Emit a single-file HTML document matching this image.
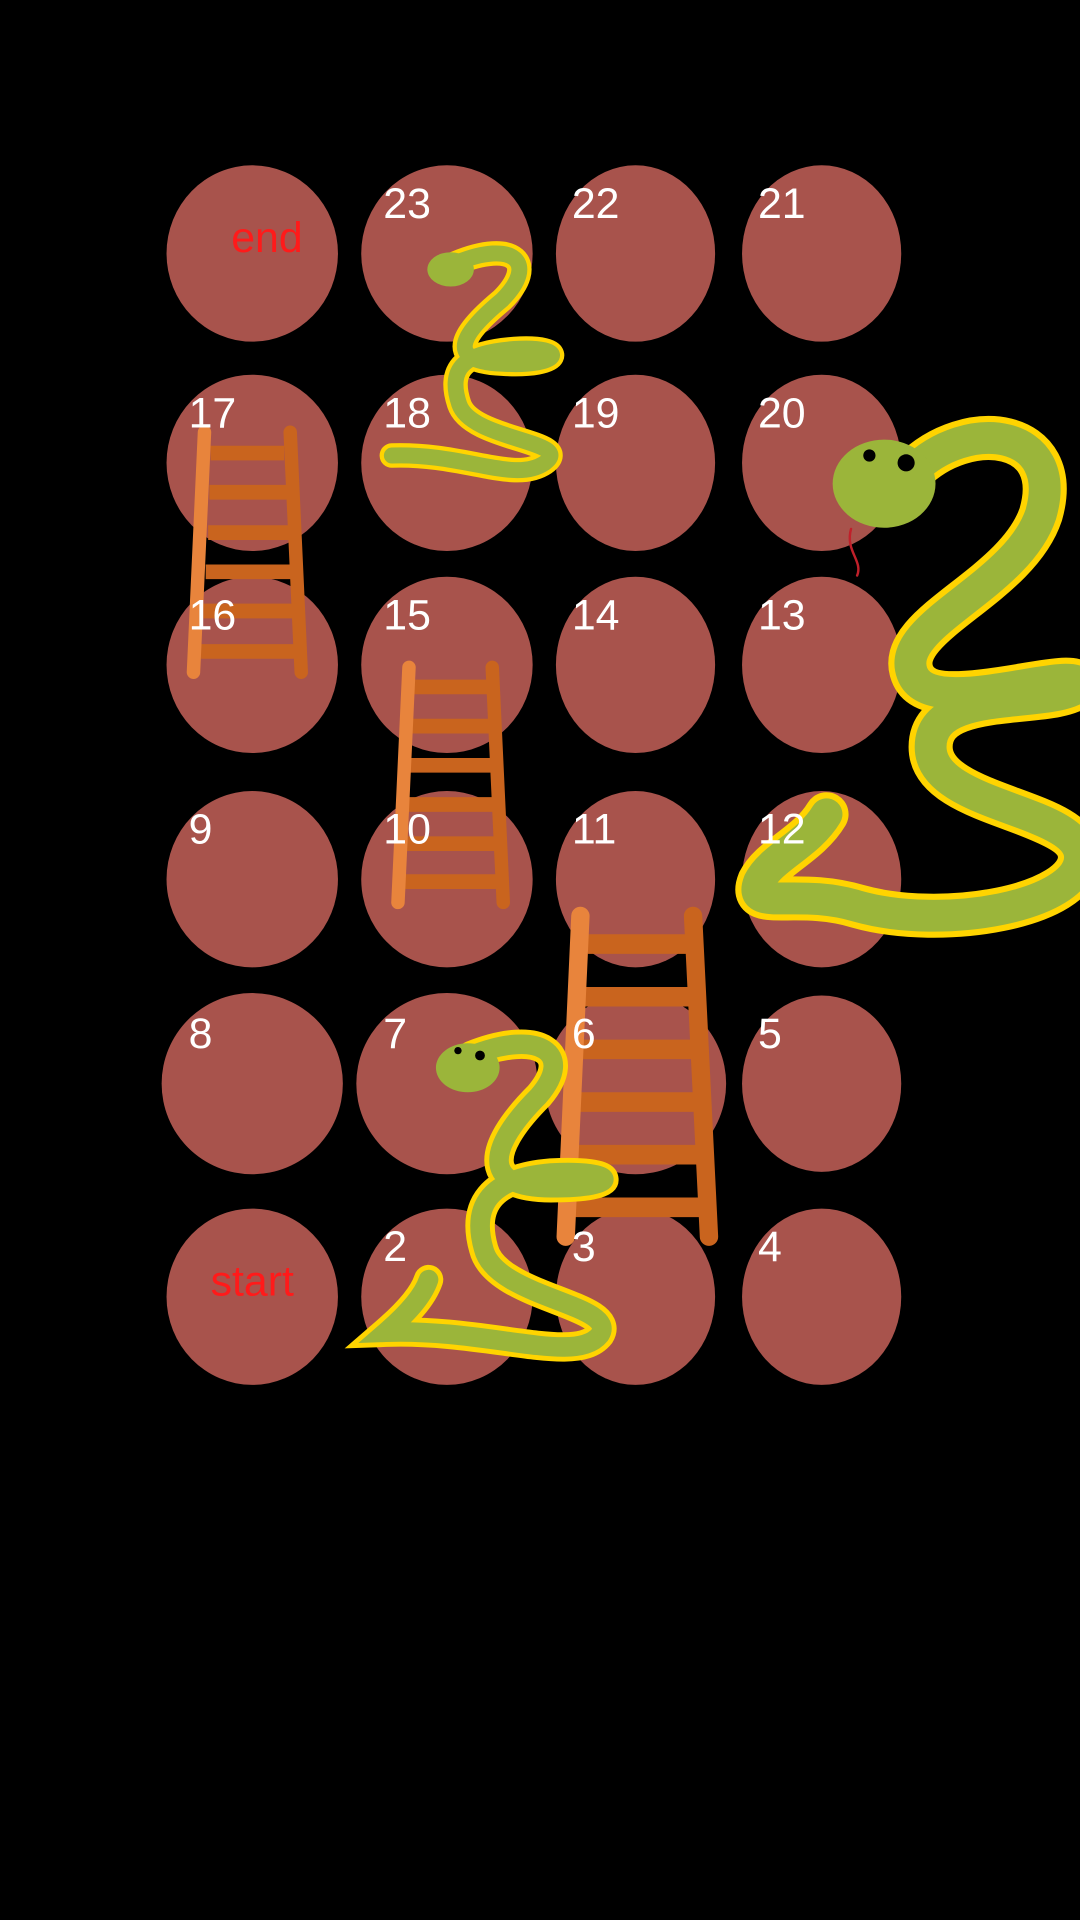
<!DOCTYPE html>
<html><head><meta charset="utf-8"><style>
html,body{margin:0;padding:0;background:#000;width:1080px;height:1920px;overflow:hidden}
svg{display:block}
text{font-family:"Liberation Sans","DejaVu Sans",sans-serif;font-size:35px;fill:#fff}
</style></head><body>
<svg width="1080" height="1920" viewBox="0 0 882 1568">
<rect width="882" height="1568" fill="#000"/>
<g id="cells" fill="#a8534c"></g>
<g>
 <g stroke="#c9641e" stroke-width="12">
  <line x1="172" y1="370" x2="232" y2="370"/><line x1="171" y1="402" x2="234" y2="402"/>
  <line x1="170" y1="435" x2="236" y2="435"/><line x1="168" y1="467" x2="238" y2="467"/>
  <line x1="166" y1="499" x2="240" y2="499"/><line x1="164" y1="532" x2="242" y2="532"/>
 </g>
 <line x1="167" y1="353" x2="158" y2="549" stroke="#e8843c" stroke-width="11" stroke-linecap="round"/>
 <line x1="237" y1="353" x2="246" y2="549" stroke="#c9641e" stroke-width="11" stroke-linecap="round"/>
</g>
<g>
 <g stroke="#c9641e" stroke-width="12">
  <line x1="338" y1="561" x2="400" y2="561"/><line x1="336" y1="593" x2="402" y2="593"/>
  <line x1="335" y1="625" x2="404" y2="625"/><line x1="333" y1="657" x2="406" y2="657"/>
  <line x1="331" y1="689" x2="408" y2="689"/><line x1="329" y1="720" x2="409" y2="720"/>
 </g>
 <line x1="334" y1="545" x2="325" y2="737" stroke="#e8843c" stroke-width="11" stroke-linecap="round"/>
 <line x1="402" y1="545" x2="411" y2="737" stroke="#c9641e" stroke-width="11" stroke-linecap="round"/>
</g>
<g>
 <g stroke="#c9641e" stroke-width="16">
  <line x1="480" y1="771" x2="562" y2="771"/><line x1="478" y1="814" x2="564" y2="814"/>
  <line x1="476" y1="857" x2="566" y2="857"/><line x1="474" y1="900" x2="569" y2="900"/>
  <line x1="471" y1="943" x2="572" y2="943"/><line x1="469" y1="986" x2="575" y2="986"/>
 </g>
 <line x1="474" y1="748" x2="462" y2="1010" stroke="#e8843c" stroke-width="15" stroke-linecap="round"/>
 <line x1="566" y1="748" x2="579" y2="1010" stroke="#c9641e" stroke-width="15" stroke-linecap="round"/>
</g>
<g fill="none" stroke-linecap="round">
 <path d="M372,215 C420,195 440,215 410,245 C380,270 360,295 410,297 C460,300 465,282 420,285 C380,288 365,300 375,330 C385,360 470,360 445,378 C420,395 380,370 320,372" stroke="#ffd400" stroke-width="20"/>
 <path d="M372,215 C420,195 440,215 410,245 C380,270 360,295 410,297 C460,300 465,282 420,285 C380,288 365,300 375,330 C385,360 470,360 445,378 C420,395 380,370 320,372" stroke="#9bb53a" stroke-width="13"/>
 <ellipse cx="368" cy="220" rx="19" ry="14" fill="#9bb53a"/>
</g>
<g fill="none" stroke-linecap="round">
 <path d="M745,385 C790,340 870,350 850,420 C830,480 730,510 745,550 C760,590 880,540 882,560 C860,580 760,560 760,610 C760,660 882,660 882,700 C882,740 770,760 700,740 C650,725 610,745 620,720 C630,700 660,690 675,665" stroke="#ffd400" stroke-width="36"/>
 <path d="M745,385 C790,340 870,350 850,420 C830,480 730,510 745,550 C760,590 880,540 882,560 C860,580 760,560 760,610 C760,660 882,660 882,700 C882,740 770,760 700,740 C650,725 610,745 620,720 C630,700 660,690 675,665" stroke="#9bb53a" stroke-width="26"/>
 <ellipse cx="722" cy="395" rx="42" ry="36" fill="#9bb53a"/>
 <circle cx="740" cy="378" r="7" fill="#000"/><circle cx="710" cy="372" r="5" fill="#000"/>
 <path d="M695,432 C690,450 705,458 700,470" stroke="#c0202a" stroke-width="2"/>
</g>
<g fill="none" stroke-linecap="round">
 <path d="M385,862 C440,840 470,860 440,895 C400,935 390,970 450,970 C510,970 505,955 450,958 C400,962 385,985 395,1020 C405,1060 505,1065 490,1090 C470,1115 400,1085 315,1088 C330,1075 345,1060 350,1045" stroke="#ffd400" stroke-width="24"/>
 <path d="M385,862 C440,840 470,860 440,895 C400,935 390,970 450,970 C510,970 505,955 450,958 C400,962 385,985 395,1020 C405,1060 505,1065 490,1090 C470,1115 400,1085 315,1088 C330,1075 345,1060 350,1045" stroke="#9bb53a" stroke-width="16"/>
 <ellipse cx="382" cy="872" rx="26" ry="20" fill="#9bb53a"/>
 <circle cx="392" cy="862" r="4" fill="#000"/><circle cx="374" cy="858" r="3" fill="#000"/>
</g>
<g id="labels"></g>
</svg>
<script>
const cellLabels=[["end","23","22","21"],["17","18","19","20"],["16","15","14","13"],["9","10","11","12"],["8","7","6","5"],["start","2","3","4"]];
const colX=[206,365,519,671];
const rowY=[207,378,543,718,885,1059];
const ns="http://www.w3.org/2000/svg";
const cells=document.getElementById('cells'),labels=document.getElementById('labels');
cellLabels.forEach((row,r)=>row.forEach((lab,c)=>{
 const e=document.createElementNS(ns,'ellipse');
 e.setAttribute('cx',colX[c]);e.setAttribute('cy',rowY[r]);
 e.setAttribute('rx',(r===4&&c<3)?74:(c>=2?65:70));e.setAttribute('ry',(r===4&&c<3)?74:72);
 
 
 cells.appendChild(e);
 const t=document.createElementNS(ns,'text');
 const special=(lab==="end"||lab==="start");
 t.setAttribute('x',special?colX[c]:colX[c]-52+(c===0?0:0));
 t.setAttribute('y',special?rowY[r]-1:rowY[r]-29);
 if(special){t.setAttribute('text-anchor','middle');t.setAttribute('dx',lab==="end"?12:0);t.style.fill='#ff1a1a';}
 t.textContent=lab;
 
 
 labels.appendChild(t);
}));
</script>
</body></html>
